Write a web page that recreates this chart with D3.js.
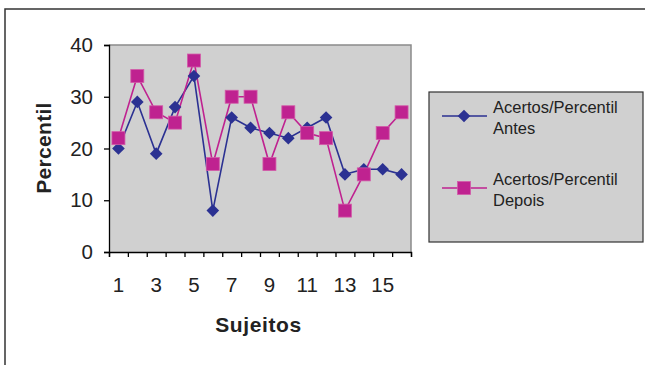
<!DOCTYPE html>
<html>
<head>
<meta charset="utf-8">
<script src="https://cdn.jsdelivr.net/npm/d3@7"></script>
<style>
  html, body { margin: 0; padding: 0; background: #fff; }
  svg { display: block; font-family: "Liberation Sans", Arial, sans-serif; }
</style>
</head>
<body>
<svg id="chart" width="645" height="365"></svg>
<script>
// Subjects and percentile scores before/after
const sujeitos = d3.range(1, 17);
const antes  = [20, 29, 19, 28, 34, 8, 26, 24, 23, 22, 24, 26, 15, 16, 16, 15];
const depois = [22, 34, 27, 25, 37, 17, 30, 30, 17, 27, 23, 22, 8, 15, 23, 27];
const yTicks = [0, 10, 20, 30, 40];
const xTickLabels = [1, 3, 5, 7, 9, 11, 13, 15];
const seriesNames = [["Acertos/Percentil", "Antes"], ["Acertos/Percentil", "Depois"]];

const colAntes = "#2b3192";
const colDepois = "#bf2290";

const svg = d3.select("#chart");

// outer chart frame
svg.append("rect").attr("x", 5).attr("y", 9).attr("width", 700).attr("height", 400)
  .attr("fill", "#fff").attr("stroke", "#333").attr("stroke-width", 1.5);

const plot = { left: 109, right: 411, top: 45, bottom: 252 };

const x = d3.scaleBand().domain(sujeitos).range([plot.left, plot.right]);
const y = d3.scaleLinear().domain([0, 40]).range([plot.bottom, plot.top]);

// plot area
svg.append("rect")
  .attr("x", plot.left).attr("y", plot.top)
  .attr("width", plot.right - plot.left).attr("height", plot.bottom - plot.top)
  .attr("fill", "#d0d0d0");
svg.append("path")
  .attr("d", `M${plot.left},${plot.top}H${plot.right}V${plot.bottom}`)
  .attr("fill", "none").attr("stroke", "#8a8a8a").attr("stroke-width", 1.5);

// y axis
const yAxis = svg.append("g").attr("transform", `translate(${plot.left},0)`)
  .call(d3.axisLeft(y).tickValues(yTicks).tickSize(5).tickPadding(11).tickFormat(d3.format("d")));
yAxis.select(".domain").attr("stroke", "#000").attr("stroke-width", 1.3);
yAxis.selectAll(".tick line").attr("stroke", "#000").attr("stroke-width", 1.3);
yAxis.selectAll("text").attr("font-size", 20.5).attr("fill", "#222")
  .attr("font-family", "Liberation Sans, Arial, sans-serif");

// x axis: ticks at band boundaries, labels at odd subjects
const xBound = d3.scaleLinear().domain([0, sujeitos.length]).range([plot.left, plot.right]);
const xAxis = svg.append("g").attr("transform", `translate(0,${plot.bottom})`)
  .call(d3.axisBottom(xBound).tickValues(d3.range(0, sujeitos.length + 1))
    .tickSize(5).tickFormat(""));
xAxis.select(".domain").attr("stroke", "#000").attr("stroke-width", 1.3);
xAxis.selectAll(".tick line").attr("stroke", "#000").attr("stroke-width", 1.3);

svg.append("g").selectAll("text").data(xTickLabels).join("text")
  .attr("x", d => x(d) + x.bandwidth() / 2)
  .attr("y", 292)
  .attr("text-anchor", "middle")
  .attr("font-size", 20.5).attr("fill", "#222")
  .text(d => d);

// axis titles
svg.append("text").attr("x", 258.5).attr("y", 332)
  .attr("text-anchor", "middle").attr("font-size", 21).attr("font-weight", "bold")
  .attr("letter-spacing", 0.6).attr("fill", "#222").text("Sujeitos");
svg.append("text")
  .attr("transform", `translate(50.5,148) rotate(-90)`)
  .attr("text-anchor", "middle").attr("font-size", 21).attr("font-weight", "bold")
  .attr("letter-spacing", 0.3).attr("fill", "#222").text("Percentil");

const cx = d => x(d) + x.bandwidth() / 2;
const line = d3.line().x((v, i) => cx(sujeitos[i])).y(v => y(v));

// lines
svg.append("path").datum(antes).attr("d", line)
  .attr("fill", "none").attr("stroke", colAntes).attr("stroke-width", 1.6);
svg.append("path").datum(depois).attr("d", line)
  .attr("fill", "none").attr("stroke", colDepois).attr("stroke-width", 1.6);

const diamond = d3.symbol().type(d3.symbolSquare).size(80);
// markers
svg.append("g").selectAll("path").data(antes).join("path")
  .attr("d", diamond)
  .attr("transform", (v, i) => `translate(${cx(sujeitos[i])},${y(v)}) rotate(45)`)
  .attr("fill", colAntes);
svg.append("g").selectAll("rect").data(depois).join("rect")
  .attr("x", (v, i) => cx(sujeitos[i]) - 6.5)
  .attr("y", v => y(v) - 6.5)
  .attr("width", 13).attr("height", 13)
  .attr("fill", colDepois).attr("stroke", "#d35aa8").attr("stroke-width", 0.8);

// legend
const lg = svg.append("g");
lg.append("rect").attr("x", 429).attr("y", 92).attr("width", 214).attr("height", 150)
  .attr("fill", "#d0d0d0").attr("stroke", "#333").attr("stroke-width", 1.2);

const legendRows = [
  { y: 116, color: colAntes, kind: "diamond", text: seriesNames[0] },
  { y: 188, color: colDepois, kind: "square", text: seriesNames[1] }
];
legendRows.forEach(r => {
  lg.append("line").attr("x1", 442).attr("x2", 487).attr("y1", r.y).attr("y2", r.y)
    .attr("stroke", r.color).attr("stroke-width", 1.5);
  if (r.kind === "diamond") {
    lg.append("path").attr("d", diamond)
      .attr("transform", `translate(464,${r.y}) rotate(45)`).attr("fill", r.color);
  } else {
    lg.append("rect").attr("x", 457.5).attr("y", r.y - 6.5).attr("width", 13).attr("height", 13)
      .attr("fill", r.color).attr("stroke", "#d35aa8").attr("stroke-width", 0.8);
  }
  const t = lg.append("text").attr("x", 493).attr("y", r.y - 3)
    .attr("font-size", 16.5).attr("fill", "#222");
  t.append("tspan").attr("x", 493).text(r.text[0]);
  t.append("tspan").attr("x", 493).attr("dy", 21).text(r.text[1]);
});
</script>
</body>
</html>
